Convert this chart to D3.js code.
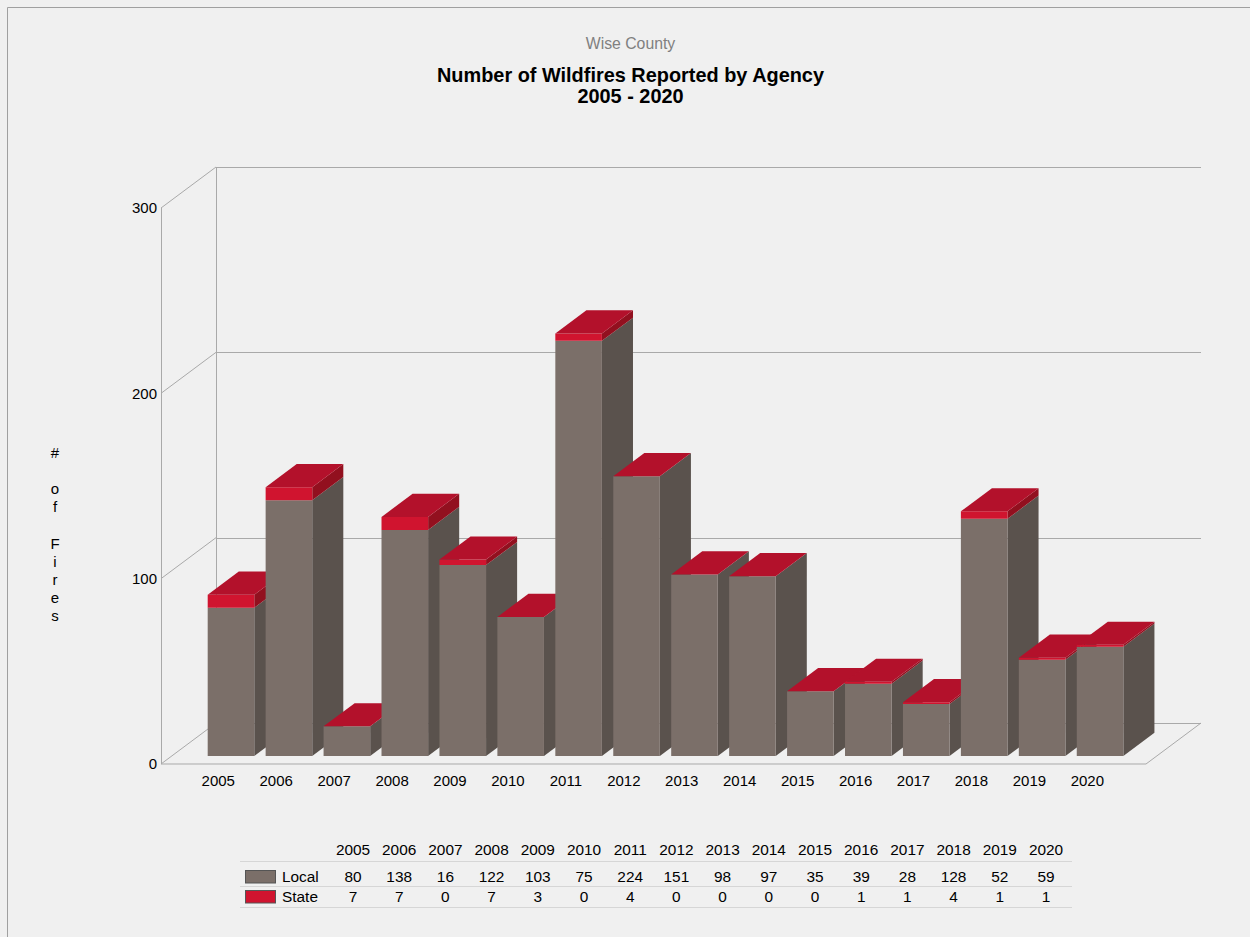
<!DOCTYPE html>
<html>
<head>
<meta charset="utf-8">
<script src="https://cdn.jsdelivr.net/npm/d3@7"></script>
<style>
  html, body { margin: 0; padding: 0; background: #f0f0f0; }
  svg { display: block; font-family: "Liberation Sans", Arial, sans-serif; }
</style>
</head>
<body>
<svg id="chart" width="1250" height="937"></svg>
<script>
// ---- data ----
const years = ["2005","2006","2007","2008","2009","2010","2011","2012","2013","2014","2015","2016","2017","2018","2019","2020"];
const local = [80,138,16,122,103,75,224,151,98,97,35,39,28,128,52,59];
const state = [7,7,0,7,3,0,4,0,0,0,0,1,1,4,1,1];
const yTicks = [0,100,200,300];
const seriesNames = ["Local","State"];
const subtitle = "Wise County";
const titleLines = ["Number of Wildfires Reported by Agency","2005 - 2020"];
const yTitle = ["#","","o","f","","F","i","r","e","s"];

// ---- styles ----
const col = {
  bg: "#f0f0f0",
  localFront: "#7b6f69", localSide: "#5a524d",
  stateFront: "#d0142f", stateSide: "#92101f", top: "#b3112b",
  grid: "#a9a9a9", wall: "#a0a0a0", tableLine: "#d6d6d6", text: "#000"
};

const svg = d3.select("#chart");
svg.append("rect").attr("width",1250).attr("height",937).attr("fill",col.bg);
// frame
svg.append("line").attr("x1",7.5).attr("y1",7.5).attr("x2",1250).attr("y2",7.5).attr("stroke","#a0a0a0");
svg.append("line").attr("x1",7.5).attr("y1",7.5).attr("x2",7.5).attr("y2",937).attr("stroke","#a0a0a0");

// ---- scales / 3D projection ----
const x = d3.scaleBand().domain(years).range([191.3, 1118.3]).paddingInner(0.196).paddingOuter(0.098);
const y = d3.scaleLinear().domain([0,300]).range([764, 208]);
const DX = 55, DY = -41;          // full depth offset
const tF = 0.195, tB = 0.76;      // bar front / back depth
const P = (px, py, t) => [px + DX*t, py + DY*t];
const floorL = 161, floorR = 1146;
const poly = d3.line();

// ---- walls ----
const g = svg.append("g").attr("fill","none").attr("stroke",col.grid).attr("stroke-width",1);
yTicks.forEach(v => {
  const a = P(floorL, y(v), 1), b = P(floorR, y(v), 1);
  g.append("line").attr("x1",a[0]).attr("y1",Math.round(a[1])+0.5).attr("x2",b[0]).attr("y2",Math.round(b[1])+0.5);
  const c = P(floorL, y(v), 0);
  g.append("line").attr("x1",c[0]).attr("y1",c[1]).attr("x2",a[0]).attr("y2",a[1]);
});
[0,1].forEach(t => {
  const a = P(floorL, y(0), t), b = P(floorL, y(300), t);
  g.append("line").attr("x1",Math.round(a[0])+0.5).attr("y1",a[1]).attr("x2",Math.round(b[0])+0.5).attr("y2",b[1]);
});
{
  const a = P(floorL, y(0), 0), b = P(floorR, y(0), 0), c = P(floorR, y(0), 1);
  g.append("path").attr("d", poly([a,b,c]));
}

// ---- bars ----
const bw = x.bandwidth();
const bars = svg.append("g");
years.forEach((yr, i) => {
  const x0 = x(yr), x1 = x0 + bw;
  const lt = local[i], st = local[i] + state[i];
  const seg = (v0, v1, front, side) => {
    if (v1 <= v0) return;
    bars.append("path").attr("fill", side)
      .attr("d", poly([P(x1,y(v0),tF), P(x1,y(v0),tB), P(x1,y(v1),tB), P(x1,y(v1),tF)]) + "Z");
    bars.append("path").attr("fill", front)
      .attr("d", poly([P(x0,y(v0),tF), P(x1,y(v0),tF), P(x1,y(v1),tF), P(x0,y(v1),tF)]) + "Z");
  };
  seg(0, lt, col.localFront, col.localSide);
  seg(lt, st, col.stateFront, col.stateSide);
  bars.append("path").attr("fill", col.top)
    .attr("d", poly([P(x0,y(st),tF), P(x1,y(st),tF), P(x1,y(st),tB), P(x0,y(st),tB)]) + "Z");
});

// ---- axes ----
const yAxis = svg.append("g").attr("transform","translate(161,0)")
  .call(d3.axisLeft(y).tickValues(yTicks).tickSize(0).tickPadding(4));
yAxis.select(".domain").remove();
yAxis.selectAll("text").attr("font-size","15px").attr("fill",col.text).attr("font-family","Liberation Sans, Arial, sans-serif");

const xAxis = svg.append("g").attr("transform","translate(-2,772.5)")
  .call(d3.axisBottom(x).tickSize(0).tickPadding(3));
xAxis.select(".domain").remove();
xAxis.selectAll("text").attr("font-size","15px").attr("fill",col.text).attr("font-family","Liberation Sans, Arial, sans-serif");

svg.append("g").selectAll("text").data(yTitle).join("text")
  .attr("x",55).attr("y",(d,i)=>458 + i*18.1).attr("text-anchor","middle")
  .attr("font-size","15px").attr("fill",col.text).text(d=>d);

// ---- titles ----
svg.append("text").attr("x",630.5).attr("y",49).attr("text-anchor","middle")
  .attr("font-size","15.8px").attr("fill","#808080").text(subtitle);
svg.append("g").selectAll("text").data(titleLines).join("text")
  .attr("x",630.5).attr("y",(d,i)=>81.8 + i*21.5).attr("text-anchor","middle")
  .attr("font-size","19.9px").attr("font-weight","bold").attr("fill",col.text).text(d=>d);

// ---- data table ----
const tx = d3.scalePoint().domain(years).range([353, 1046]);
const tbl = svg.append("g").attr("font-size","15.4px").attr("fill",col.text);
[861.5, 886.5, 907.5].forEach(ly => {
  tbl.append("line").attr("x1",240).attr("x2",1072).attr("y1",ly).attr("y2",ly)
    .attr("stroke",col.tableLine).attr("stroke-width",1);
});
tbl.append("g").selectAll("text").data(years).join("text")
  .attr("x",d=>tx(d)).attr("y",855).attr("text-anchor","middle").text(d=>d);
const rows = [
  {name: seriesNames[0], vals: local, color: col.localFront, yb: 882, ry: 870.5},
  {name: seriesNames[1], vals: state, color: col.stateFront, yb: 902, ry: 890.5}
];
rows.forEach(r => {
  tbl.append("rect").attr("x",245.5).attr("y",r.ry).attr("width",30).attr("height",12.5)
    .attr("fill",r.color).attr("stroke","#555").attr("stroke-width",1);
  tbl.append("text").attr("x",282).attr("y",r.yb).text(r.name);
  tbl.append("g").selectAll("text").data(r.vals).join("text")
    .attr("x",(d,i)=>tx(years[i])).attr("y",r.yb).attr("text-anchor","middle").text(d=>d);
});
</script>
</body>
</html>
